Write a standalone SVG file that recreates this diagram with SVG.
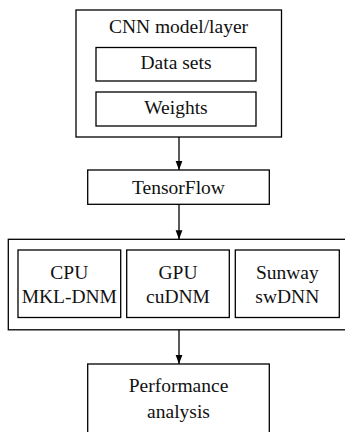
<svg xmlns="http://www.w3.org/2000/svg" width="345" height="432" viewBox="0 0 345 432">
<style>
.b{fill:none;stroke:#000;stroke-width:1.3}
.t{font-family:"Liberation Serif","Times New Roman",serif;font-size:19.5px;fill:#111;text-anchor:middle}
.c{stroke:#000;stroke-width:1.3;fill:none}
</style>
<defs>
<marker id="ah" markerWidth="9" markerHeight="12" refX="12" refY="4.5" orient="auto" markerUnits="userSpaceOnUse" viewBox="0 0 12 9">
<path d="M0,0 L12,4.5 L0,9 Z" fill="#000"/>
</marker>
</defs>
<rect width="345" height="432" fill="#fff"/>
<g id="cnn">
<rect class="b" x="76" y="10" width="205.5" height="127"/>
<text class="t" x="178.5" y="33">CNN model/layer</text>
</g>
<g id="datasets">
<rect class="b" x="96" y="47.5" width="160" height="33.5"/>
<text class="t" x="176" y="68.5">Data sets</text>
</g>
<g id="weights">
<rect class="b" x="96" y="92" width="160" height="34"/>
<text class="t" x="176" y="113.5">Weights</text>
</g>
<g id="tensorflow">
<rect class="b" x="87.7" y="170" width="181.6" height="34.3"/>
<text class="t" x="178.5" y="193.5">TensorFlow</text>
</g>
<g id="platform">
<rect class="b" x="8.3" y="239.3" width="345" height="90.5"/>
</g>
<g id="cpu">
<rect class="b" x="18" y="250" width="102.7" height="67.5"/>
<text class="t" x="69.3" y="278.5">CPU</text>
<text class="t" x="69.3" y="302.5">MKL-DNM</text>
</g>
<g id="gpu">
<rect class="b" x="126.7" y="250" width="102.6" height="67.5"/>
<text class="t" x="178" y="278.5">GPU</text>
<text class="t" x="178" y="302.5">cuDNM</text>
</g>
<g id="sunway">
<rect class="b" x="235.3" y="250" width="104" height="67.5"/>
<text class="t" x="287.3" y="278.5">Sunway</text>
<text class="t" x="287.3" y="302.5">swDNN</text>
</g>
<g id="performance">
<rect class="b" x="87.7" y="364" width="181.6" height="80"/>
<text class="t" x="178.5" y="392">Performance</text>
<text class="t" x="178.5" y="418">analysis</text>
</g>
<g id="connectors">
<line class="c" x1="179" y1="137" x2="179" y2="170" marker-end="url(#ah)"/>
<line class="c" x1="179" y1="204.3" x2="179" y2="239.3" marker-end="url(#ah)"/>
<line class="c" x1="179" y1="329.8" x2="179" y2="364" marker-end="url(#ah)"/>
</g>
</svg>
